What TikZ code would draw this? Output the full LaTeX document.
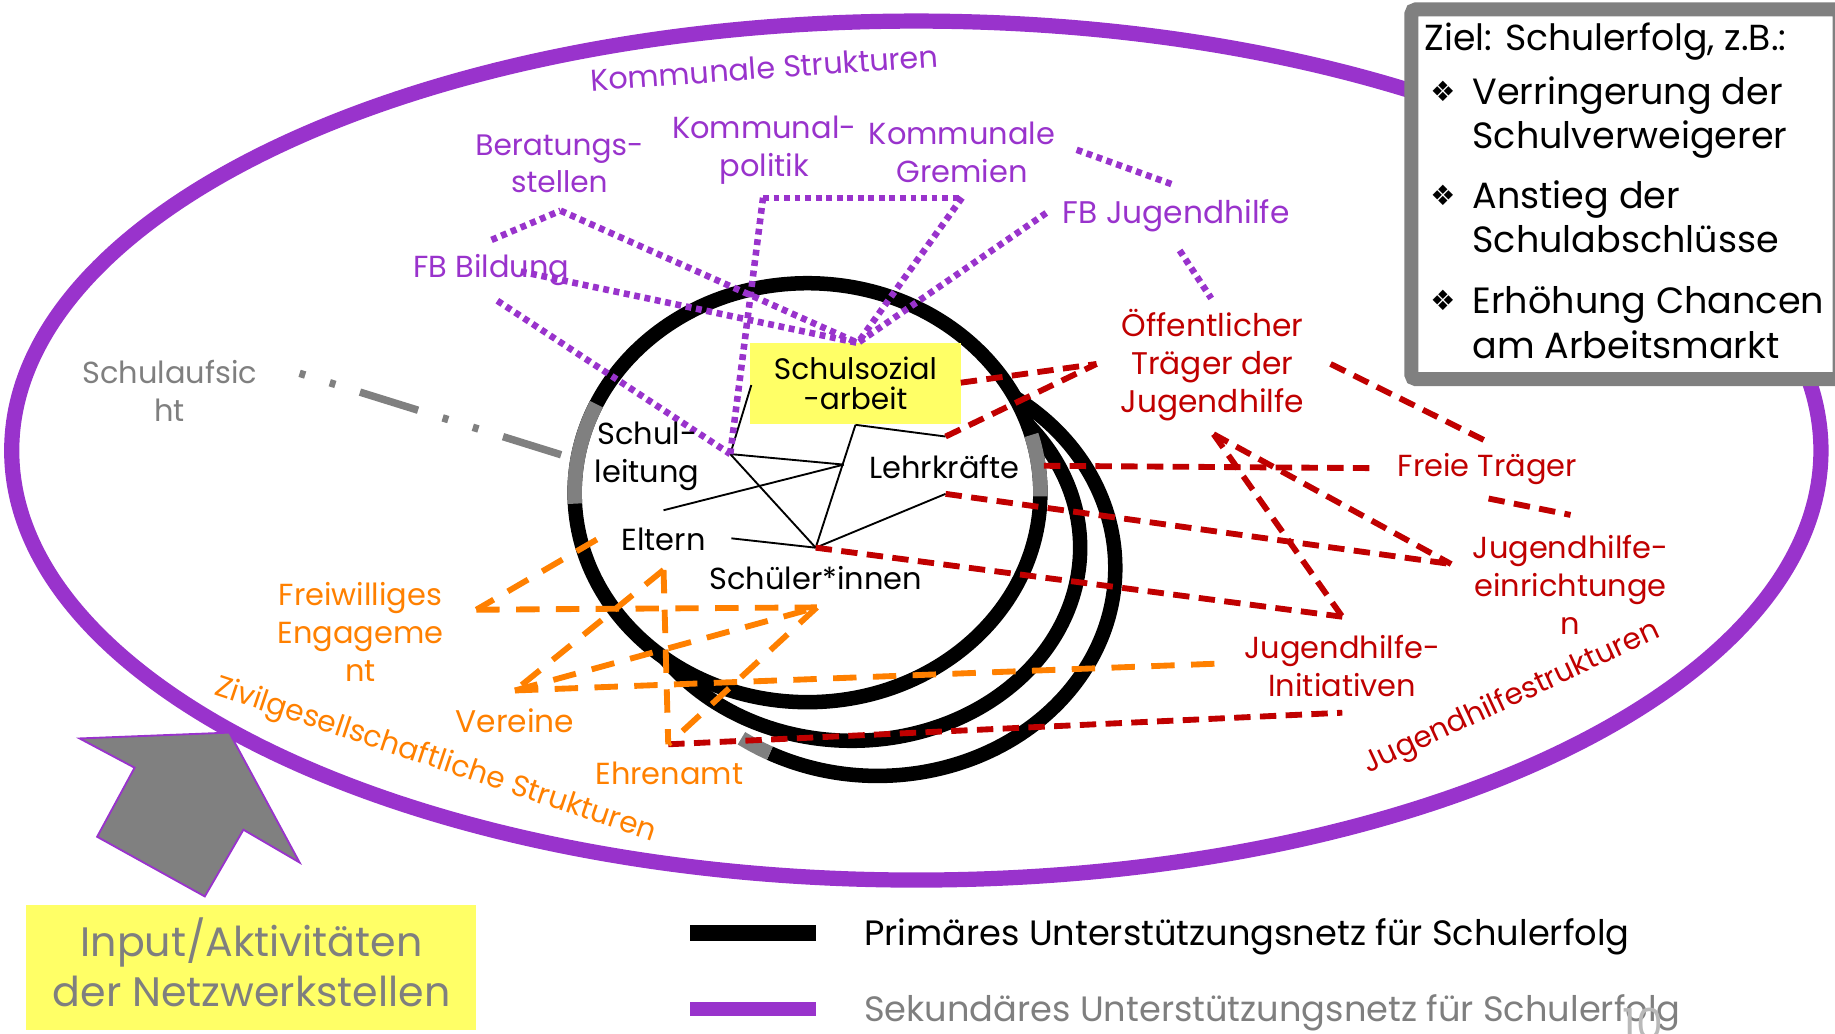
\documentclass[tikz,border=0pt]{standalone}
\usepackage{fontspec}
\setmainfont{Poppins}
\newfontfamily\symfont{DejaVu Sans}
\definecolor{purp}{HTML}{9933CC}
\definecolor{dred}{HTML}{C00000}
\definecolor{orng}{HTML}{FF8000}
\definecolor{lemon}{HTML}{FFFF66}
\definecolor{midgray}{HTML}{808080}
\definecolor{txtgray}{HTML}{7F7F7F}
\begin{document}
\begin{tikzpicture}[x=0.025cm,y=-0.025cm,
  every node/.style={inner sep=0pt},
  lab/.style={align=center, font=\fontsize{18.5}{23}\selectfont},
  plab/.style={lab, text=purp},
  rlab/.style={lab, text=dred},
  olab/.style={lab, text=orng},
  klab/.style={lab, text=black},
  pdot/.style={purp, line width=0.14cm, dash pattern=on 0.125cm off 0.1cm},
  rdash/.style={dred, line width=0.125cm, dash pattern=on 0.35cm off 0.2cm},
  odash/.style={orng, line width=0.125cm, dash pattern=on 0.5cm off 0.35cm},
  netline/.style={black, line width=0.04cm},
  ring/.style={black, line width=0.31cm},
  ringgray/.style={midgray, line width=0.31cm},
  boxline/.style={anchor=base west, font=\fontsize{22.2}{27}\selectfont},
  bul/.style={font=\symfont\fontsize{17}{20}\selectfont},
]
\useasboundingbox (0,0) rectangle (1568,883);
\clip (0,0) rectangle (1568,883);

% secondary network: large purple ellipse
\draw[purp, line width=0.325cm] (783,385) ellipse[x radius=773, y radius=367];

% goal box
\draw[line width=0.3cm, draw=midgray, fill=white, rounded corners=0.1cm] (1206,8) rectangle (1572,324);
\node[anchor=base west, font=\fontsize{22}{25}\selectfont] (ziel) at (1217,43) {Ziel: Schulerfolg, z.B.:};
\node[bul] (b1) at (1233,78) {❖};
\node[bul] (b2) at (1233,167) {❖};
\node[bul] (b3) at (1233,257) {❖};
\node[boxline] (g1a) at (1258,89) {Verringerung der};
\node[boxline] (g1b) at (1258,127) {Schulverweigerer};
\node[boxline] (g2a) at (1258,178) {Anstieg der};
\node[boxline] (g2b) at (1258,216) {Schulabschlüsse};
\node[boxline] (g3a) at (1258,268) {Erhöhung Chancen};
\node[boxline] (g3b) at (1258,306) {am Arbeitsmarkt};

% primary network rings
\draw[ring] (690,421) ellipse[x radius=199, y radius=179];
\draw[ring] (728,468) ++(-40:195 and 165) arc[start angle=-40, end angle=145, x radius=195, y radius=165];
\draw[ring] (750,485) ++(-55:203 and 178) arc[start angle=-55, end angle=117, x radius=203, y radius=178];
\draw[ringgray] (750,485) ++(117:203 and 178) arc[start angle=117, end angle=125, x radius=203, y radius=178];
\draw[ringgray] (690,421) ++(177:199 and 179) arc[start angle=177, end angle=205, x radius=199, y radius=179];
\draw[ringgray] (690,421) ++(-16:199 and 179) arc[start angle=-16, end angle=1, x radius=199, y radius=179];

% school social work box
\node[fill=lemon, minimum width=4.5cm, minimum height=1.725cm, align=center,
      font=\fontsize{18}{18.5}\selectfont] (ssa) at (731,327.5) {Schulsozial\\-arbeit};

% junction points
\coordinate (hS) at (624,388);
\coordinate (hL) at (721,397);
\coordinate (hSS) at (697,468);
\coordinate (bT) at (731,363);
\coordinate (bSSAl) at (642,329);
\coordinate (bEl) at (567,436);
\coordinate (bEr) at (625,460);
\coordinate (rL1) at (808,373);
\coordinate (rL2) at (892,398);
\coordinate (rL3) at (808,422);
\coordinate (pTop) at (733,293);
\coordinate (pB) at (479,180);
\coordinate (pBl) at (420,205);
\coordinate (pFBa) at (445,232);
\coordinate (pFBb) at (425,257);
\coordinate (pKP) at (652,169);
\coordinate (pKG) at (822,169);
\coordinate (pFJ) at (894,182);
\coordinate (pG1) at (920,128);
\coordinate (pG2) at (1003,158);
\coordinate (pJ1) at (1008,214);
\coordinate (pJ2) at (1035,255);
\coordinate (rTip) at (937,311);
\coordinate (rSSA) at (821,327);
\coordinate (rO1) at (1137,311);
\coordinate (rF1) at (1270,377);
\coordinate (rF2) at (1172,400);
\coordinate (rF3) at (1272,426);
\coordinate (rJE1) at (1342,440);
\coordinate (rO2) at (1037,371);
\coordinate (rJE) at (1240,482);
\coordinate (rJI) at (1147,527);
\coordinate (rEh) at (571,636);
\coordinate (rJI2) at (1147,609);
\coordinate (oF) at (407,521);
\coordinate (oE1) at (510,461);
\coordinate (oS) at (698,519);
\coordinate (oV) at (440,590);
\coordinate (oE2) at (567,487);
\coordinate (oJI) at (1042,567);
\coordinate (gA) at (256,319);
\coordinate (gB) at (484,390);

% thin links inside the school
\draw[netline] (bSSAl) -- (hS);
\draw[netline] (hS) -- (hL);
\draw[netline] (hS) -- (hSS);
\draw[netline] (hL) -- (bEl);
\draw[netline] (bT) -- (hSS);
\draw[netline] (bT) -- (rL1);
\draw[netline] (hSS) -- (bEr);
\draw[netline] (hSS) -- (rL3);

% school supervision
\draw[midgray, line width=0.16cm, dash pattern=on 0.125cm off 0.55cm on 0.125cm off 0.55cm on 1.3cm off 0.55cm] (gA) -- (gB);

% municipal structures (dotted purple)
\draw[pdot] (pBl) -- (pB);
\draw[pdot] (pB) -- (pTop);
\draw[pdot] (pFBa) -- (pTop);
\draw[pdot] (pFBb) -- (hS);
\draw[pdot] (hS) -- (pKP);
\draw[pdot] (pKP) -- (pKG);
\draw[pdot] (pKG) -- (pTop);
\draw[pdot] (pFJ) -- (pTop);
\draw[pdot] (pG1) -- (pG2);
\draw[pdot] (pJ1) -- (pJ2);

% youth welfare structures (dashed red)
\draw[rdash] (rSSA) -- (rTip);
\draw[rdash] (rL1) -- (rTip);
\draw[rdash] (rO1) -- (rF1);
\draw[rdash] (rL2) -- (rF2);
\draw[rdash] (rF3) -- (rJE1);
\draw[rdash] (rL3) -- (rJE);
\draw[rdash] (rO2) -- (rJE);
\draw[rdash] (rO2) -- (rJI);
\draw[rdash] (hSS) -- (rJI);
\draw[rdash] (rEh) -- (rJI2);

% civil society structures (dashed orange)
\draw[odash] (oE1) -- (oF);
\draw[odash] (oF) -- (oS);
\draw[odash] (oE2) -- (oV);
\draw[odash] (oV) -- (oS);
\draw[odash] (oV) -- (oJI);
\draw[odash] (oE2) -- (rEh);
\draw[odash] (oS) -- (rEh);

% labels
\node[plab, rotate=4, font=\fontsize{18.4}{23}\selectfont] (ks) at (653,58) {Kommunale Strukturen};
\node[plab, font=\fontsize{18}{23}\selectfont] (ber) at (478,140) {Beratungs-\\stellen};
\node[plab, font=\fontsize{18.5}{23}\selectfont] (kp) at (653,128) {Kommunal-\\politik};
\node[plab, font=\fontsize{18.5}{23}\selectfont] (kg) at (822,130) {Kommunale\\Gremien};
\node[plab, font=\fontsize{19}{23}\selectfont] (fbj) at (1005,184) {FB Jugendhilfe};
\node[plab] (fbb) at (420,231) {FB Bildung};
\node[lab, text=txtgray] (sa) at (145,334) {Schulaufsic\\ht};
\node[klab] (sl) at (553,390) {Schul-\\leitung};
\node[klab] (lk) at (807,399) {Lehrkräfte};
\node[klab] (el) at (567,461) {Eltern};
\node[klab] (sch) at (697,494) {Schüler*innen};
\node[rlab, font=\fontsize{19}{23}\selectfont] (oetr) at (1036,312) {Öffentlicher\\Träger der\\Jugendhilfe};
\node[rlab] (ft) at (1271,401) {Freie Träger};
\node[rlab] (jhe) at (1342,500) {Jugendhilfe-\\einrichtunge\\n};
\node[rlab] (jhi) at (1147,569) {Jugendhilfe-\\Initiativen};
\node[rlab, rotate=25, font=\fontsize{18}{23}\selectfont] (jhs) at (1292,597) {Jugendhilfestrukturen};
\node[olab] (fe) at (308,540) {Freiwilliges\\Engageme\\nt};
\node[olab, font=\fontsize{19}{23}\selectfont] (ver) at (440,616) {Vereine};
\node[olab] (ehr) at (572,661) {Ehrenamt};
\node[olab, rotate=-18.5, font=\fontsize{18}{23}\selectfont] (zgs) at (372,650) {Zivilgesellschaftliche Strukturen};

% input arrow and box
\draw[purp, line width=0.04cm, fill=midgray] (68,631) -- (196,626) -- (256,737) -- (208,709) -- (175,766) -- (83,715) -- (115,656) -- cycle;
\node[fill=lemon, minimum width=9.625cm, minimum height=2.675cm] (inbox) at (214.5,826.5) {};
\node[anchor=base, text=txtgray, font=\fontsize{25}{30}\selectfont] (in1) at (215,817) {Input/Aktivitäten};
\node[anchor=base, text=txtgray, font=\fontsize{25}{30}\selectfont] (in2) at (215,860) {der Netzwerkstellen};

% legend
\draw[black, line width=0.35cm] (590,797) coordinate (lk1) -- (697,797) coordinate (lk2);
\draw[purp, line width=0.3cm] (590,862) coordinate (lp1) -- (697,862) coordinate (lp2);
\node[anchor=base west, font=\fontsize{21.4}{25}\selectfont] (leg1) at (738,808) {Primäres Unterstützungsnetz für Schulerfolg};
\node[anchor=base west, text=txtgray, font=\fontsize{21.4}{25}\selectfont] (leg2) at (738,873) {Sekundäres Unterstützungsnetz für Schulerfolg};
\node[anchor=north, text=gray!55, font=\fontsize{26}{30}\selectfont] (pg) at (1404,861) {10};
\end{tikzpicture}
\end{document}
